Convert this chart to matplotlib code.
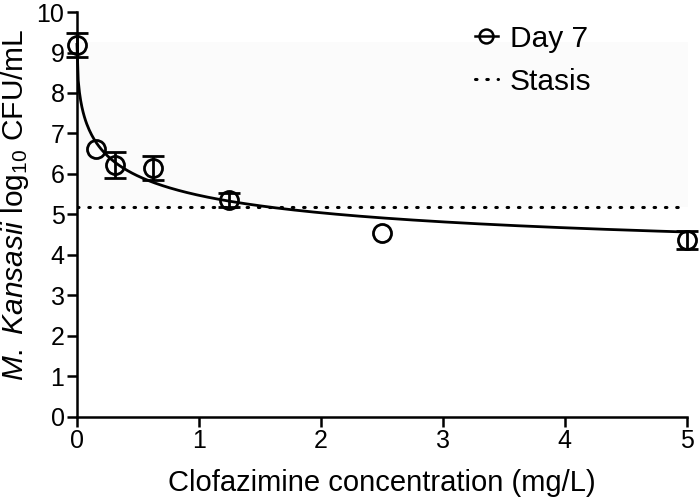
import numpy as np
import matplotlib
matplotlib.use("Agg")
import matplotlib.pyplot as plt
from matplotlib.lines import Line2D

plt.rcParams["font.family"] = ["Liberation Sans", "DejaVu Sans"]
plt.rcParams["mathtext.fontset"] = "custom"
plt.rcParams["mathtext.rm"] = "Liberation Sans"
plt.rcParams["mathtext.it"] = "Liberation Sans:italic"

# measured day-7 counts (nan = error bar hidden behind marker)
conc = [0, 0.156, 0.3125, 0.625, 1.25, 2.5, 5]
cfu = [9.18, 6.62, 6.23, 6.15, 5.36, 4.55, 4.37]
sem = [0.3, np.nan, 0.32, 0.3, 0.17, np.nan, 0.22]

stasis = 5.18

# sigmoid Emax fit
e0 = 9.2
emax = 5.77
ec50 = 0.3
hill = 0.5

fig = plt.figure(figsize=(7.0, 5.01), dpi=100)
ax = fig.add_axes([0.11, 0.168, 0.871, 0.808])

ax.fill_between([0, 5.03], stasis, 9.26, color="#fbfbfb", lw=0, zorder=0)

xs = np.linspace(0, 5, 500)
fit = e0 - emax * xs**hill / (ec50**hill + xs**hill)
ax.plot(xs, fit, color="black", lw=2, zorder=3, clip_on=False)

ax.plot([0, 4.98], [stasis, stasis], color="black", lw=2.2, ls=(0, (0.5, 3.2)),
        dash_capstyle="round", zorder=2)

ax.errorbar(conc, cfu, yerr=sem, fmt="none", ecolor="black", elinewidth=2,
            capsize=8, capthick=2, zorder=4, clip_on=False)
ax.plot(conc, cfu, "o", ms=13, mfc="none", mec="black", mew=2, zorder=5,
        clip_on=False)

ax.set_xlim(0, 5)
ax.set_ylim(0, 10)
ax.set_xticks(range(0, 6))
ax.set_yticks(range(0, 11))
for s in ["top", "right"]:
    ax.spines[s].set_visible(False)
for s in ["left", "bottom"]:
    ax.spines[s].set_linewidth(1.8)
ax.tick_params(width=1.8, length=7, labelsize=18, pad=2)

ax.set_xlabel("Clofazimine concentration (mg/L)", fontsize=21, labelpad=11)
ax.set_ylabel(r"$\mathit{M.\ Kansasii}$ log$_{10}$ CFU/mL", fontsize=21.5)
ax.yaxis.set_label_coords(-0.076, 0.523)

handles = [
    Line2D([], [], color="black", lw=1.8, marker="o", ms=10, mfc="none", mew=1.8),
    Line2D([], [], color="black", lw=2.2, ls=(0, (0.5, 3.2)), dash_capstyle="round"),
]
ax.legend(handles, ["Day 7", "Stasis"], loc="upper left", bbox_to_anchor=(0.608, 1.035),
          frameon=False, fontsize=21.5, handlelength=0.78, handletextpad=0.4,
          labelspacing=0.5)

fig.savefig("out.png", dpi=100)
